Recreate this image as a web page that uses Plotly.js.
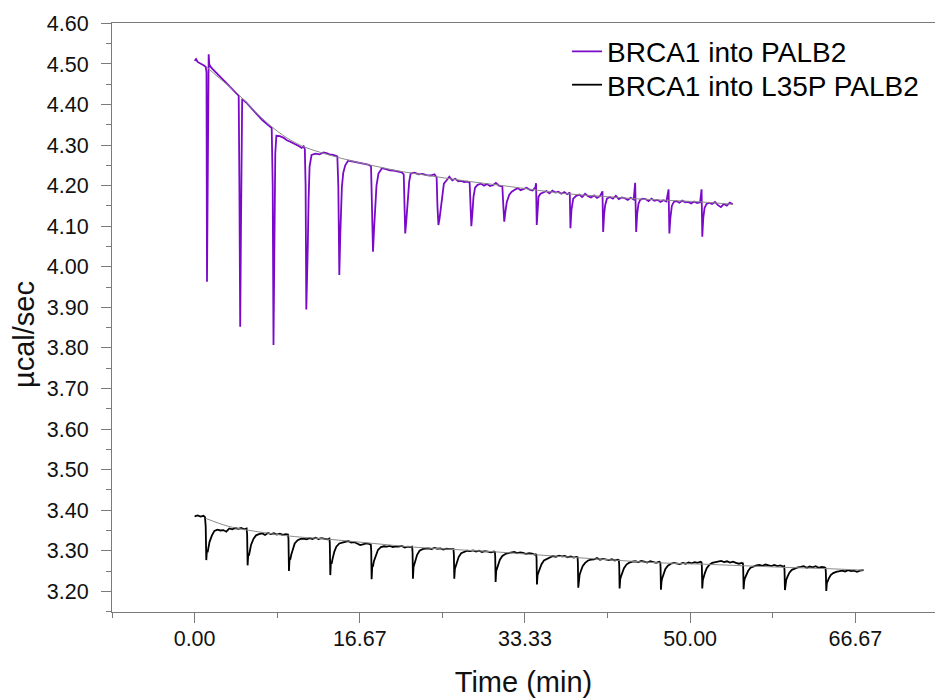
<!DOCTYPE html>
<html>
<head>
<meta charset="utf-8">
<script src="https://cdn.plot.ly/plotly-3.0.1.min.js"></script>
<style>html,body{margin:0;padding:0;background:#fff;}#chart{width:935px;height:700px;}</style>
</head>
<body>
<div id="chart"></div>
<script>
// ---- Data ----
var seriesNames = ['BRCA1 into PALB2', 'BRCA1 into L35P PALB2'];

var purpleTime = [
 0.00,0.15,0.30,0.60,0.90,1.12,
 1.20,1.25,1.31,1.36,1.42,1.48,1.58,
 1.80,2.20,2.60,3.00,3.40,3.80,4.20,4.45,
 4.52,4.60,4.68,4.74,4.80,
 5.20,5.60,6.00,6.40,6.80,7.20,7.60,7.78,
 7.88,7.96,8.05,8.14,8.25,
 8.60,9.00,9.30,9.60,9.90,10.20,10.50,10.80,11.00,11.12,
 11.20,11.27,11.35,11.42,11.50,11.60,11.80,
 12.20,12.60,13.00,13.30,13.60,14.00,14.40,
 14.50,14.60,14.70,14.86,15.00,15.20,15.50,
 15.90,16.30,16.70,17.10,17.50,17.80,
 17.90,18.00,18.10,18.20,18.35,18.55,18.90,
 19.30,19.70,20.10,20.50,20.90,21.10,
 21.18,21.25,21.35,21.50,21.65,21.80,
 22.20,22.60,23.00,23.40,23.80,24.20,24.42,
 24.50,24.60,24.72,24.85,25.00,25.15,25.45,
 25.70,26.00,26.30,26.60,26.90,27.20,27.55,27.75,
 27.84,27.92,28.02,28.14,28.30,28.55,
 28.90,29.20,29.50,29.80,30.10,30.40,30.70,31.05,
 31.15,31.24,31.35,31.50,31.75,32.00,
 32.30,32.60,32.90,33.20,33.50,33.80,34.10,34.38,
 34.45,34.52,34.60,34.70,34.90,35.20,
 35.50,35.80,36.10,36.40,36.70,37.00,37.30,37.60,
 37.85,37.92,38.02,38.20,38.50,
 38.80,39.10,39.40,39.70,40.00,40.30,40.60,40.90,
 41.15,41.22,41.32,41.42,41.60,41.90,
 42.20,42.50,42.80,43.10,43.40,43.70,44.00,44.30,
 44.45,44.55,44.65,44.78,44.95,45.20,
 45.50,45.80,46.10,46.40,46.70,47.00,47.30,47.60,
 47.82,47.90,48.00,48.15,48.35,48.60,
 48.90,49.20,49.50,49.80,50.10,50.40,50.70,51.00,
 51.15,51.22,51.32,51.45,51.65,51.90,
 52.20,52.50,52.80,53.10,53.40,53.70,54.00,54.30
];
var purpleSignal = [
 4.508,4.512,4.505,4.502,4.497,4.493,
 4.480,3.963,4.150,4.420,4.524,4.500,4.494,
 4.488,4.478,4.469,4.458,4.447,4.437,4.428,4.422,
 4.200,3.852,4.100,4.380,4.414,
 4.405,4.395,4.383,4.373,4.362,4.354,4.347,4.342,
 4.200,3.807,4.050,4.280,4.323,
 4.322,4.318,4.312,4.309,4.306,4.301,4.298,4.293,4.297,4.290,
 4.200,3.895,3.960,4.050,4.165,4.247,4.276,
 4.279,4.277,4.282,4.280,4.277,4.276,4.272,
 4.200,3.980,4.080,4.197,4.232,4.250,4.262,
 4.260,4.258,4.255,4.254,4.252,4.248,
 4.150,4.037,4.090,4.148,4.200,4.230,4.243,
 4.241,4.238,4.237,4.235,4.233,4.228,
 4.120,4.082,4.110,4.173,4.210,4.230,
 4.232,4.228,4.229,4.226,4.225,4.228,4.220,
 4.150,4.103,4.120,4.148,4.185,4.205,4.214,
 4.222,4.213,4.217,4.211,4.212,4.209,4.210,4.207,
 4.150,4.100,4.130,4.173,4.195,4.202,
 4.205,4.200,4.204,4.199,4.201,4.207,4.200,4.198,
 4.150,4.111,4.135,4.160,4.178,4.185,
 4.190,4.194,4.189,4.192,4.195,4.190,4.188,4.196,
 4.206,4.103,4.150,4.173,4.180,4.183,
 4.187,4.181,4.188,4.183,4.185,4.180,4.184,4.179,
 4.183,4.095,4.140,4.168,4.175,
 4.178,4.172,4.180,4.174,4.171,4.176,4.170,4.174,
 4.186,4.086,4.130,4.152,4.168,4.172,
 4.168,4.175,4.167,4.171,4.169,4.165,4.170,4.166,
 4.207,4.086,4.130,4.155,4.165,4.168,
 4.167,4.162,4.168,4.163,4.165,4.160,4.164,4.161,
 4.191,4.082,4.120,4.150,4.160,4.162,
 4.158,4.163,4.159,4.160,4.156,4.161,4.157,4.159,
 4.191,4.074,4.120,4.145,4.155,4.158,
 4.155,4.160,4.152,4.147,4.155,4.151,4.158,4.154
];

var blackTime = [
 0.00,0.30,0.60,0.90,1.05,
 1.12,1.18,1.24,1.31,1.40,1.51,1.75,2.00,2.30,
 2.60,2.90,3.20,3.50,3.80,4.10,4.40,4.70,5.00,5.25,
 5.30,5.35,5.41,5.48,5.58,5.70,5.95,6.20,6.50,
 6.80,7.10,7.40,7.70,8.00,8.30,8.60,8.90,9.20,9.42,
 9.47,9.52,9.58,9.65,9.75,9.90,10.10,10.40,10.70,
 11.00,11.30,11.60,11.90,12.20,12.50,12.80,13.10,13.40,13.60,
 13.64,13.69,13.75,13.82,13.92,14.10,14.30,14.60,14.90,
 15.20,15.50,15.80,16.10,16.40,16.70,17.00,17.30,17.60,17.78,
 17.82,17.86,17.92,18.00,18.10,18.30,18.50,18.80,19.10,
 19.40,19.70,20.00,20.30,20.60,20.90,21.20,21.50,21.80,21.95,
 21.99,22.03,22.09,22.16,22.28,22.45,22.70,23.00,23.30,
 23.60,23.90,24.20,24.50,24.80,25.10,25.40,25.70,26.00,26.12,
 26.16,26.20,26.26,26.33,26.45,26.65,26.90,27.20,27.50,
 27.80,28.10,28.40,28.70,29.00,29.30,29.60,29.90,30.20,30.30,
 30.33,30.37,30.43,30.50,30.62,30.80,31.05,31.35,31.65,
 31.95,32.25,32.55,32.85,33.15,33.45,33.75,34.05,34.35,34.47,
 34.50,34.54,34.60,34.67,34.80,35.00,35.25,35.55,35.85,
 36.15,36.45,36.75,37.05,37.35,37.65,37.95,38.25,38.50,38.64,
 38.67,38.71,38.77,38.84,38.97,39.15,39.40,39.70,40.00,
 40.30,40.60,40.90,41.20,41.50,41.80,42.10,42.40,42.70,42.80,
 42.84,42.88,42.94,43.01,43.14,43.32,43.57,43.87,44.17,
 44.47,44.77,45.07,45.37,45.67,45.97,46.27,46.57,46.87,46.98,
 47.01,47.05,47.11,47.18,47.31,47.50,47.75,48.05,48.35,
 48.65,48.95,49.25,49.55,49.85,50.15,50.45,50.75,51.05,51.15,
 51.18,51.22,51.28,51.35,51.48,51.67,51.92,52.22,52.52,
 52.82,53.12,53.42,53.72,54.02,54.32,54.62,54.92,55.22,55.32,
 55.35,55.39,55.45,55.52,55.65,55.84,56.09,56.39,56.69,
 56.99,57.29,57.59,57.89,58.19,58.49,58.79,59.09,59.39,59.49,
 59.52,59.56,59.62,59.69,59.82,60.01,60.26,60.56,60.86,
 61.16,61.46,61.76,62.06,62.36,62.66,62.96,63.26,63.56,63.66,
 63.69,63.73,63.79,63.86,63.99,64.18,64.43,64.73,65.03,
 65.33,65.63,65.93,66.23,66.53,66.83,67.13,67.50
];
var blackSignal = [
 3.385,3.387,3.384,3.386,3.383,
 3.360,3.277,3.300,3.296,3.310,3.322,3.338,3.349,3.352,
 3.350,3.351,3.347,3.355,3.353,3.356,3.354,3.356,3.353,3.355,
 3.340,3.264,3.290,3.288,3.300,3.315,3.330,3.338,3.341,
 3.343,3.339,3.344,3.341,3.343,3.340,3.342,3.339,3.341,3.340,
 3.330,3.250,3.280,3.278,3.290,3.305,3.318,3.326,3.329,
 3.330,3.328,3.331,3.329,3.332,3.329,3.331,3.330,3.328,3.330,
 3.320,3.240,3.270,3.268,3.280,3.298,3.310,3.318,3.320,
 3.322,3.324,3.320,3.321,3.318,3.314,3.316,3.318,3.317,3.315,
 3.300,3.230,3.260,3.262,3.275,3.290,3.302,3.309,3.311,
 3.310,3.312,3.309,3.311,3.310,3.312,3.308,3.310,3.309,3.310,
 3.295,3.231,3.260,3.265,3.277,3.290,3.300,3.304,3.305,
 3.306,3.304,3.307,3.305,3.306,3.303,3.305,3.304,3.303,3.304,
 3.290,3.231,3.255,3.260,3.272,3.285,3.294,3.298,3.300,
 3.299,3.301,3.298,3.300,3.297,3.299,3.298,3.296,3.298,3.297,
 3.285,3.223,3.250,3.255,3.265,3.278,3.287,3.292,3.294,
 3.295,3.297,3.294,3.296,3.295,3.292,3.294,3.293,3.290,3.292,
 3.280,3.217,3.240,3.245,3.255,3.267,3.276,3.280,3.282,
 3.287,3.285,3.288,3.286,3.287,3.284,3.286,3.283,3.285,3.284,
 3.270,3.209,3.235,3.240,3.250,3.262,3.270,3.276,3.278,
 3.279,3.282,3.278,3.280,3.279,3.277,3.279,3.276,3.278,3.277,
 3.265,3.207,3.230,3.236,3.245,3.257,3.266,3.271,3.273,
 3.274,3.272,3.275,3.273,3.271,3.274,3.272,3.270,3.273,3.271,
 3.260,3.204,3.225,3.232,3.242,3.255,3.263,3.268,3.270,
 3.269,3.267,3.270,3.268,3.271,3.269,3.272,3.270,3.273,3.271,
 3.260,3.207,3.228,3.235,3.245,3.257,3.265,3.270,3.272,
 3.273,3.275,3.272,3.274,3.271,3.273,3.270,3.268,3.270,3.269,
 3.255,3.205,3.225,3.232,3.240,3.250,3.258,3.262,3.264,
 3.265,3.263,3.266,3.264,3.262,3.265,3.262,3.264,3.261,3.262,
 3.250,3.203,3.222,3.228,3.236,3.246,3.253,3.257,3.259,
 3.260,3.262,3.258,3.261,3.259,3.262,3.258,3.260,3.259,3.257,
 3.245,3.201,3.220,3.225,3.232,3.240,3.245,3.248,3.250,
 3.251,3.249,3.252,3.250,3.251,3.248,3.251,3.252
];

// fitted baselines (thin grey curves)
var purpleBaseTime = [1.25,2.5,4.3,6.0,7.6,9.3,11.0,12.7,14.4,16.0,17.7,19.4,21.1,24.4,27.5,30.8,34.2,37.6,41.0,44.3,47.6,51.0,54.3];
var purpleBase     = [4.492,4.465,4.428,4.385,4.349,4.318,4.296,4.282,4.270,4.260,4.251,4.242,4.234,4.222,4.211,4.201,4.190,4.180,4.174,4.168,4.164,4.160,4.154];
var blackBaseTime  = [1.10,3.30,5.30,7.50,9.65,13.70,18.05,22.10,26.20,30.50,34.50,38.60,42.90,47.00,51.20,55.40,59.60,63.70,67.50];
var blackBase      = [3.380,3.361,3.351,3.343,3.336,3.328,3.318,3.309,3.303,3.297,3.290,3.283,3.276,3.270,3.267,3.263,3.259,3.256,3.252];

var xTitle = 'Time (min)';
var yTitle = 'µcal/sec';

// ---- Plot ----
var FONT = 'Arial, "Liberation Sans", sans-serif';
var AX = '#7a7a7a';

var traces = [
  {x: purpleTime, y: purpleSignal, type: 'scatter', mode: 'lines', name: seriesNames[0],
   legend: 'legend', line: {color: '#7a0ac8', width: 1.8}},
  {x: blackTime, y: blackSignal, type: 'scatter', mode: 'lines', name: seriesNames[1],
   legend: 'legend2', line: {color: '#000000', width: 1.8}},
  {x: purpleBaseTime, y: purpleBase, type: 'scatter', mode: 'lines', showlegend: false,
   line: {color: '#8a8a8a', width: 1, shape: 'spline'}},
  {x: blackBaseTime, y: blackBase, type: 'scatter', mode: 'lines', showlegend: false,
   line: {color: '#8a8a8a', width: 1, shape: 'spline'}}
];

var legendFont = {family: FONT, size: 28, color: '#000'};
var layout = {
  width: 935, height: 700,
  margin: {l: 112, r: 0, t: 23, b: 88},
  paper_bgcolor: '#ffffff', plot_bgcolor: '#ffffff',
  font: {family: FONT, color: '#111'},
  showlegend: true,
  legend:  {x: 0.5529, xanchor: 'left', y: 1 - (51.7 - 23) / 589, yanchor: 'middle',
            font: legendFont, bgcolor: 'rgba(0,0,0,0)'},
  legend2: {x: 0.5529, xanchor: 'left', y: 1 - (85 - 23) / 589, yanchor: 'middle',
            font: legendFont, bgcolor: 'rgba(0,0,0,0)'},
  xaxis: {
    range: [-8.3333, 74.7], tickmode: 'linear', tick0: 0, dtick: 16.66667, tickformat: '.2f',
    ticks: 'outside', ticklen: 10, tickwidth: 1, tickcolor: AX,
    showline: true, linecolor: AX, linewidth: 1, mirror: true,
    showgrid: false, zeroline: false,
    tickfont: {family: FONT, size: 21.5, color: '#111'},
    ticklabelstandoff: -3,
    minor: {tickmode: 'linear', tick0: 0, dtick: 8.333333, ticks: 'outside', ticklen: 5, tickcolor: AX, showgrid: false},
    title: {text: xTitle, font: {family: FONT, size: 29, color: '#111'}, standoff: 21}
  },
  yaxis: {
    range: [3.149, 4.601], tickmode: 'linear', tick0: 3.2, dtick: 0.1, tickformat: '.2f',
    ticks: 'outside', ticklen: 10, tickwidth: 1, tickcolor: AX,
    showline: true, linecolor: AX, linewidth: 1,
    showgrid: false, zeroline: false,
    tickfont: {family: FONT, size: 21.5, color: '#111'},
    ticklabelstandoff: 8,
    minor: {tickmode: 'linear', tick0: 3.2, dtick: 0.05, ticks: 'outside', ticklen: 5, tickcolor: AX, showgrid: false}
  },
  annotations: [
    {text: yTitle, xref: 'paper', yref: 'paper', x: (24 - 112) / 823, y: 1 - (335 - 23) / 589,
     xanchor: 'center', yanchor: 'middle', textangle: -90, showarrow: false,
     font: {family: FONT, size: 29, color: '#111'}}
  ]
};

Plotly.newPlot('chart', traces, layout, {staticPlot: true, displayModeBar: false});
</script>
</body>
</html>
